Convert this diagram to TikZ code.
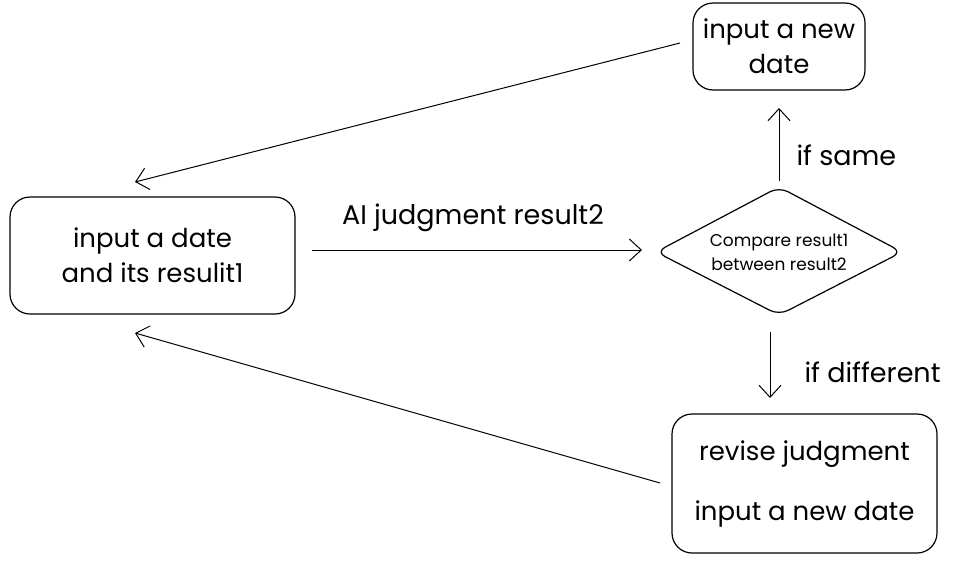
\documentclass[tikz,border=0pt]{standalone}
\usepackage{fontspec}
\setmainfont{Poppins}
\usetikzlibrary{arrows.meta,shapes.geometric}
\begin{document}
\begin{tikzpicture}[x=1pt,y=-1pt,
  box/.style={draw,rounded corners=20pt,line width=1.2pt,align=center,inner sep=0pt},
  lbl/.style={font=\fontsize{27}{30}\selectfont,anchor=west},
  conn/.style={line width=1pt,-{Straight Barb[length=12pt,width=22pt,line width=1pt]}}]
\useasboundingbox (0,0) rectangle (971,565);
\node[box,minimum width=285pt,minimum height=117pt,font=\fontsize{26}{35}\selectfont] (L) at (152.5,255.5) {input a date\\and its resulit1};
\node[box,minimum width=172pt,minimum height=87pt,font=\fontsize{26}{35}\selectfont] (T) at (779,46.5) {input a new\\date};
\node[box,minimum width=265pt,minimum height=139pt,font=\fontsize{26}{60}\selectfont] (B) at (804.5,483.5) {revise judgment\\input a new date};
\draw[line width=1.2pt,rounded corners=10pt] (656,252) -- (779,187) -- (902,252) -- (779,315) -- cycle;
\node[font=\fontsize{17}{24}\selectfont,align=center] (D) at (779,252) {Compare result1\\between result2};
\coordinate (Dt) at (779,181);
\coordinate (Db) at (770,332);
\coordinate (Dl) at (642,250);
\draw[conn] (680,43) -- (135,182);
\draw[conn] (660,483) -- (135,333);
\draw[conn] (312,250) -- (Dl);
\draw[conn] (Dt) -- (779,108);
\draw[conn] (Db) -- (770,398);
\node[lbl,anchor=center] (la) at (473,218) {AI judgment result2};
\node[lbl] (ls) at (793,155) {if same};
\node[lbl] (ld) at (801,372) {if different};
\end{tikzpicture}
\end{document}
